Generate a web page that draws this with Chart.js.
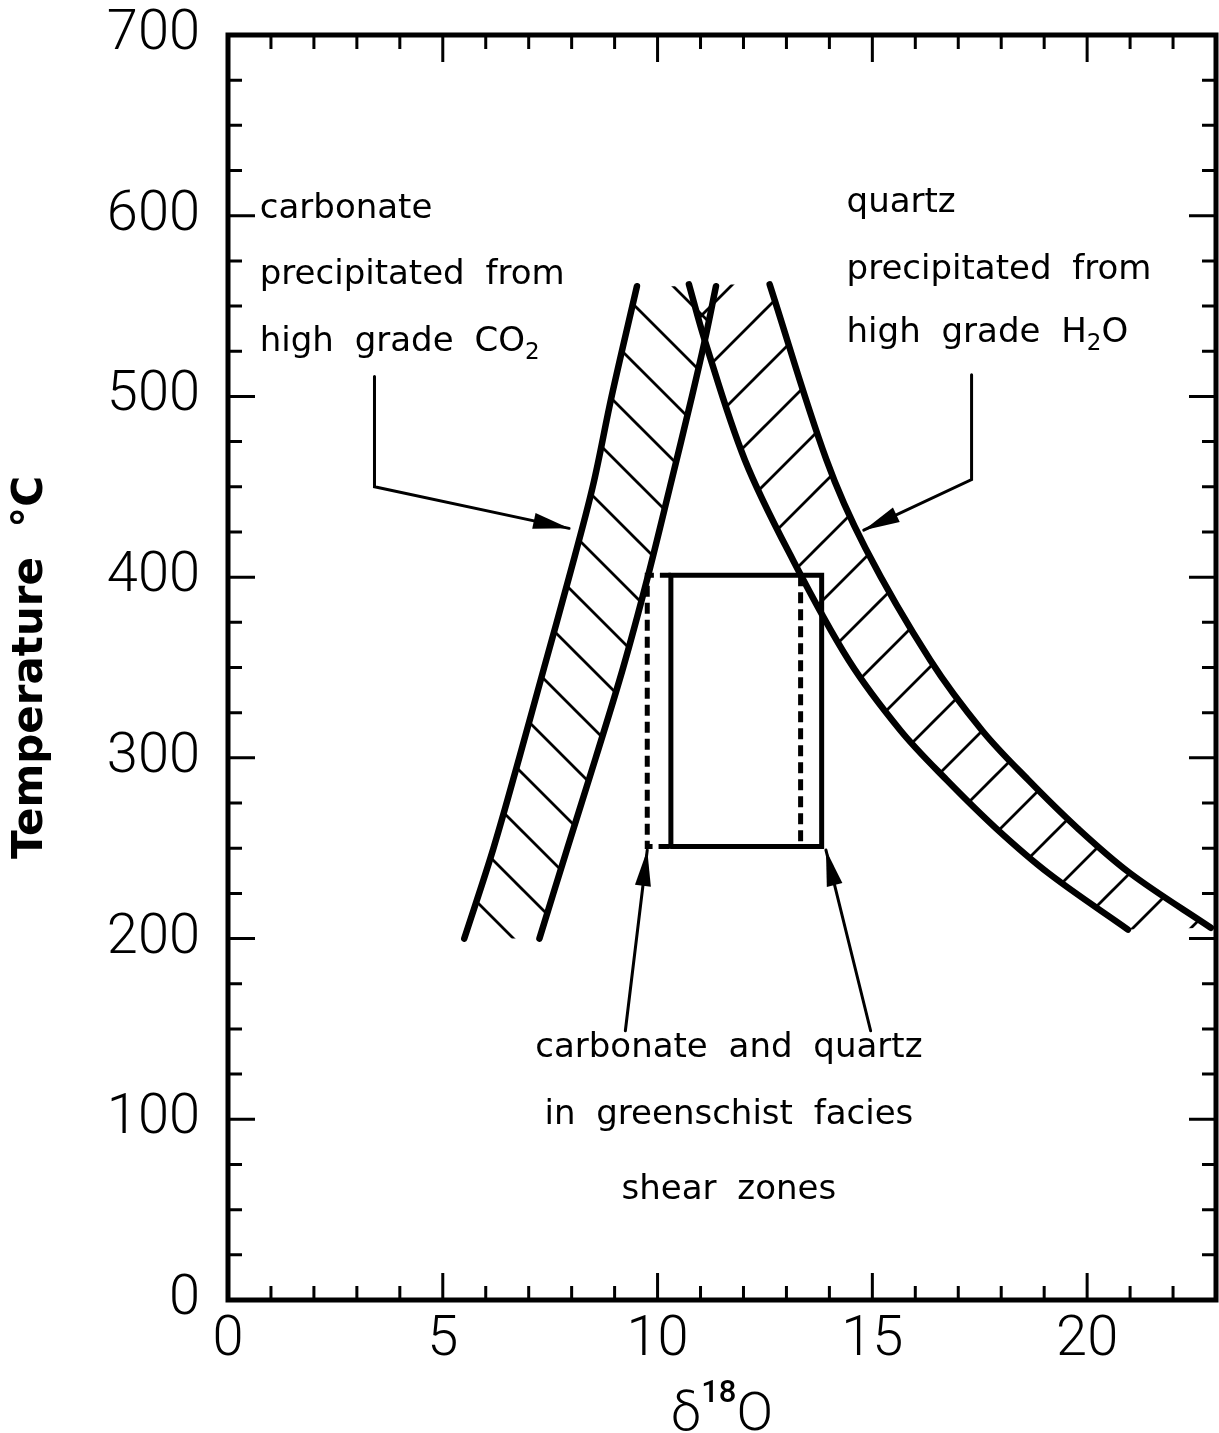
<!DOCTYPE html>
<html>
<head>
<meta charset="utf-8">
<script src="https://cdn.jsdelivr.net/npm/chart.js@4/dist/chart.umd.min.js"></script>
<style>
  html, body { margin: 0; padding: 0; background: #ffffff; }
  #wrap { width: 1219px; height: 1433px; position: relative; }
</style>
</head>
<body>
<div id="wrap"><canvas id="c" width="1219" height="1433"></canvas></div>
<script>
// ---------------- data ----------------
const xTickValues = [0, 5, 10, 15, 20];
const xTickLabels = ['0', '5', '10', '15', '20'];
const yTickValues = [0, 100, 200, 300, 400, 500, 600, 700];
const yTickLabels = ['0', '100', '200', '300', '400', '500', '600', '700'];

// carbonate precipitated from high grade CO2 (band edges), δ18O vs T
const carbonateOuterT = [200, 250, 300, 350, 400, 450, 500, 561];
const carbonateOuterD = [5.50, 6.18, 6.78, 7.36, 7.94, 8.49, 8.93, 9.52];
const carbonateInnerT = [200, 250, 300, 350, 400, 450, 500, 531, 561];
const carbonateInnerD = [7.25, 7.90, 8.56, 9.20, 9.77, 10.29, 10.80, 11.10, 11.36];

// quartz precipitated from high grade H2O (band edges)
const quartzLowerT = [562, 531, 465, 410, 354, 315, 288, 261, 236, 205];
const quartzLowerD = [10.73, 11.10, 12.03, 13.14, 14.45, 15.66, 16.72, 17.88, 19.11, 20.95];
const quartzUpperT = [562, 465, 416, 354, 315, 288, 261, 236, 206];
const quartzUpperD = [12.61, 13.93, 14.84, 16.35, 17.56, 18.62, 19.78, 21.01, 22.88];

// greenschist shear zone box (solid) and dashed extent
const boxD = [10.31, 13.82];
const boxT = [251, 401];
const dashedD = [9.76, 13.33];

// annotation arrows
const carbArrowD = [3.41, 3.41, 7.94];
const carbArrowT = [511, 450, 427];
const qzArrowD = [17.31, 17.31, 14.80];
const qzArrowT = [512, 454, 426];
const leftArrowD = [9.25, 9.76];
const leftArrowT = [149, 249];
const rightArrowD = [14.96, 13.92];
const rightArrowT = [149, 249];

// ---------------- helpers ----------------
const zip = (ds, ts) => ds.map((d, i) => ({ x: d, y: ts[i] }));

const boxPoints = [
  { x: boxD[0], y: boxT[0] }, { x: boxD[0], y: boxT[1] },
  { x: boxD[1], y: boxT[1] }, { x: boxD[1], y: boxT[0] },
  { x: boxD[0], y: boxT[0] }
];
const dashLeftPoints = [
  { x: boxD[0], y: boxT[1] }, { x: dashedD[0], y: boxT[1] },
  { x: dashedD[0], y: boxT[0] }, { x: boxD[0], y: boxT[0] }
];
const dashRightPoints = [{ x: dashedD[1], y: boxT[1] }, { x: dashedD[1], y: boxT[0] }];

function curveDs(points) {
  return { data: points, showLine: true, borderColor: '#000', borderWidth: 6.5,
           tension: 0.35, pointRadius: 0, pointHoverRadius: 0, borderCapStyle: 'round', fill: false };
}
function straightDs(points, width, dash, arrow) {
  return { data: points, showLine: true, borderColor: '#000', borderWidth: width,
           tension: 0, pointRadius: 0, pointHoverRadius: 0, borderDash: dash || [],
           borderJoinStyle: 'miter', borderCapStyle: dash ? 'butt' : 'round', fill: false, arrowHead: !!arrow };
}

function tracePts(ctx, pts, reverse, moveFirst) {
  const P = reverse ? pts.slice().reverse() : pts;
  P.forEach((p, i) => {
    if (i === 0) { if (moveFirst) ctx.moveTo(p.x, p.y); else ctx.lineTo(p.x, p.y); return; }
    const prev = P[i - 1];
    const c1x = reverse ? prev.cp1x : prev.cp2x, c1y = reverse ? prev.cp1y : prev.cp2y;
    const c2x = reverse ? p.cp2x : p.cp1x, c2y = reverse ? p.cp2y : p.cp1y;
    if ([c1x, c1y, c2x, c2y].every(Number.isFinite)) ctx.bezierCurveTo(c1x, c1y, c2x, c2y, p.x, p.y);
    else ctx.lineTo(p.x, p.y);
  });
}

function makeHatch(ctx, dir, phase, s, w) {
  const c = document.createElement('canvas');
  c.width = s; c.height = s;
  const g = c.getContext('2d');
  g.strokeStyle = '#000'; g.lineWidth = w;
  g.beginPath();
  for (let k = -2; k <= 2; k++) {
    const c0 = phase + k * s;
    if (dir === 'back') { g.moveTo(c0 - s, -s); g.lineTo(c0 + 2 * s, 2 * s); }
    else { g.moveTo(c0 + s, -s); g.lineTo(c0 - 2 * s, 2 * s); }
  }
  g.stroke();
  return ctx.createPattern(c, 'repeat');
}

// ---------------- plugins ----------------
const hatchPlugin = {
  id: 'hatch',
  beforeDatasetsDraw(chart, args, opts) {
    const { ctx, chartArea: a } = chart;
    ctx.save();
    ctx.beginPath(); ctx.rect(a.left, a.top, a.right - a.left, a.bottom - a.top); ctx.clip();
    opts.bands.forEach(b => {
      const m1 = chart.getDatasetMeta(b.from), m2 = chart.getDatasetMeta(b.to);
      m1.dataset.updateControlPoints(a, 'x');
      m2.dataset.updateControlPoints(a, 'x');
      ctx.beginPath();
      tracePts(ctx, m1.data, false, true);
      tracePts(ctx, m2.data, true, false);
      ctx.closePath();
      ctx.fillStyle = makeHatch(ctx, b.dir, b.phase, b.spacing, b.width);
      ctx.fill();
    });
    ctx.restore();
  }
};

const framePlugin = {
  id: 'frame',
  afterDatasetsDraw(chart, args, o) {
    const { ctx, chartArea: a, scales: { x, y } } = chart;
    ctx.save();
    ctx.strokeStyle = '#000';
    ctx.lineWidth = o.tickWidth;
    ctx.beginPath();
    const nx = Math.round((x.max - x.min) / o.xMinorStep);
    for (let i = 1; i < nx; i++) {
      const v = x.min + i * o.xMinorStep;
      const px = x.getPixelForValue(v);
      const len = (Math.abs(v / o.xMajorStep - Math.round(v / o.xMajorStep)) < 1e-6) ? o.majorLen : o.minorLen;
      ctx.moveTo(px, a.bottom); ctx.lineTo(px, a.bottom - len);
      ctx.moveTo(px, a.top); ctx.lineTo(px, a.top + len);
    }
    const ny = Math.round((y.max - y.min) / o.yMinorStep);
    for (let i = 1; i < ny; i++) {
      const v = y.min + i * o.yMinorStep;
      const py = y.getPixelForValue(v);
      const len = (Math.abs(v / o.yMajorStep - Math.round(v / o.yMajorStep)) < 1e-6) ? o.majorLen : o.minorLen;
      ctx.moveTo(a.left, py); ctx.lineTo(a.left + len, py);
      ctx.moveTo(a.right, py); ctx.lineTo(a.right - len, py);
    }
    ctx.stroke();
    ctx.lineWidth = o.frameWidth;
    ctx.lineJoin = 'miter';
    ctx.strokeRect(a.left, a.top, a.right - a.left, a.bottom - a.top);
    ctx.restore();
  }
};

const arrowPlugin = {
  id: 'arrowheads',
  afterDatasetsDraw(chart, args, o) {
    const ctx = chart.ctx;
    chart.data.datasets.forEach((ds, i) => {
      if (!ds.arrowHead) return;
      const pts = chart.getDatasetMeta(i).data;
      const p = pts[pts.length - 1], q = pts[pts.length - 2];
      const ang = Math.atan2(p.y - q.y, p.x - q.x);
      ctx.save();
      ctx.fillStyle = '#000';
      ctx.translate(p.x, p.y); ctx.rotate(ang);
      ctx.beginPath();
      ctx.moveTo(0, 0); ctx.lineTo(-o.length, -o.width / 2); ctx.lineTo(-o.length, o.width / 2);
      ctx.closePath(); ctx.fill();
      ctx.restore();
    });
  }
};

const notesPlugin = {
  id: 'notes',
  afterDraw(chart, args, o) {
    const { ctx, chartArea: a, scales: { x, y } } = chart;
    ctx.save();
    ctx.fillStyle = '#000';
    ctx.textBaseline = 'alphabetic';
    ctx.textAlign = 'left';
    try { ctx.wordSpacing = o.wordSpacing + 'px'; } catch (e) {}
    const mainFont = `${o.size}px ${o.family}`;
    const subFont = `${o.subSize}px ${o.family}`;
    o.items.forEach(it => {
      const widths = it.parts.map(p => { ctx.font = p[1] === 'sub' ? subFont : mainFont; return ctx.measureText(p[0]).width; });
      const total = widths.reduce((s, w) => s + w, 0);
      let px = x.getPixelForValue(it.d);
      if (it.align === 'center') px -= total / 2;
      const py = y.getPixelForValue(it.t);
      it.parts.forEach((p, k) => {
        ctx.font = p[1] === 'sub' ? subFont : mainFont;
        ctx.fillText(p[0], px, py + (p[1] === 'sub' ? o.subDrop : 0));
        px += widths[k];
      });
    });
    // x-axis title: δ18O with superscript
    try { ctx.wordSpacing = '0px'; } catch (e) {}
    const t = o.xTitle;
    const f1 = `${t.weight} ${t.size}px ${t.family}`, f2 = `${t.supWeight} ${t.supSize}px ${t.family}`;
    ctx.font = f1; const w1 = ctx.measureText(t.base).width; const w3 = ctx.measureText(t.after).width;
    ctx.font = f2; const w2 = ctx.measureText(t.sup).width;
    let sx = (a.left + a.right) / 2 - (w1 + w2 + w3) / 2;
    const by = a.bottom + t.offset;
    ctx.font = f1; ctx.fillText(t.base, sx, by); sx += w1;
    ctx.font = f2; ctx.fillText(t.sup, sx, by - t.rise); sx += w2;
    ctx.font = f1; ctx.fillText(t.after, sx, by);
    ctx.restore();
  }
};

// ---------------- chart ----------------
const tickFont = { family: 'Roboto', size: 56, weight: '300' };

new Chart(document.getElementById('c').getContext('2d'), {
  type: 'scatter',
  data: {
    datasets: [
      curveDs(zip(carbonateOuterD, carbonateOuterT)),   // 0
      curveDs(zip(carbonateInnerD, carbonateInnerT)),   // 1
      curveDs(zip(quartzLowerD, quartzLowerT)),         // 2
      curveDs(zip(quartzUpperD, quartzUpperT)),         // 3
      straightDs(boxPoints, 5),                          // 4
      straightDs(dashLeftPoints, 5, [11, 6]),            // 5
      straightDs(dashRightPoints, 5, [11, 6]),           // 6
      straightDs(zip(carbArrowD, carbArrowT), 3, null, true),
      straightDs(zip(qzArrowD, qzArrowT), 3, null, true),
      straightDs(zip(leftArrowD, leftArrowT), 3, null, true),
      straightDs(zip(rightArrowD, rightArrowT), 3, null, true)
    ]
  },
  options: {
    responsive: false,
    animation: false,
    devicePixelRatio: 1,
    events: [],
    layout: { padding: { top: 35, right: 3, left: 0, bottom: 0 } },
    plugins: {
      legend: { display: false },
      tooltip: { enabled: false },
      hatch: {
        bands: [
          { from: 0, to: 1, dir: 'back', phase: 39, spacing: 58, width: 2.8 },
          { from: 2, to: 3, dir: 'fwd', phase: 31, spacing: 58, width: 2.8 }
        ]
      },
      frame: { frameWidth: 5, tickWidth: 3, majorLen: 27, minorLen: 14,
               xMinorStep: 1, xMajorStep: 5, yMinorStep: 25, yMajorStep: 100 },
      arrowheads: { length: 36, width: 16 },
      notes: {
        family: '"DejaVu Sans"', size: 34, subSize: 23, subDrop: 8, wordSpacing: 10,
        items: [
          { d: 0.74, t: 599, align: 'left', parts: [['carbonate']] },
          { d: 0.74, t: 562, align: 'left', parts: [['precipitated from']] },
          { d: 0.74, t: 525, align: 'left', parts: [['high grade CO'], ['2', 'sub']] },
          { d: 14.40, t: 602, align: 'left', parts: [['quartz']] },
          { d: 14.40, t: 565, align: 'left', parts: [['precipitated from']] },
          { d: 14.40, t: 530, align: 'left', parts: [['high grade H'], ['2', 'sub'], ['O']] },
          { d: 11.66, t: 134.5, align: 'center', parts: [['carbonate and quartz']] },
          { d: 11.66, t: 97.4, align: 'center', parts: [['in greenschist facies']] },
          { d: 11.66, t: 55.9, align: 'center', parts: [['shear zones']] }
        ],
        xTitle: { base: 'δ', sup: '18', after: 'O', family: 'Roboto', size: 54, weight: '300',
                  supSize: 31, supWeight: '500', offset: 130, rise: 28 }
      }
    },
    scales: {
      x: {
        type: 'linear', position: 'bottom', min: 0, max: 23,
        grid: { display: false, drawTicks: false },
        border: { display: false },
        afterBuildTicks: s => { s.ticks = xTickValues.map(v => ({ value: v })); },
        afterFit: s => { s.height = 133; s.paddingLeft = 0; s.paddingRight = 0; s.paddingTop = 0; s.paddingBottom = 0; },
        ticks: { autoSkip: false, maxRotation: 0, padding: 7, color: '#000', font: tickFont,
                 callback: (v, i) => xTickLabels[i] }
      },
      y: {
        type: 'linear', position: 'left', min: 0, max: 700,
        grid: { display: false, drawTicks: false },
        border: { display: false },
        afterBuildTicks: s => { s.ticks = yTickValues.map(v => ({ value: v })); },
        afterFit: s => { s.width = 228; s.paddingTop = 0; s.paddingBottom = 0; s.paddingLeft = 0; s.paddingRight = 0; },
        ticks: { autoSkip: false, padding: 28, color: '#000', font: tickFont,
                 callback: (v, i) => yTickLabels[i] },
        title: { display: true, text: 'Temperature  °C', color: '#000',
                 font: { family: '"DejaVu Sans"', size: 42, weight: 'bold' },
                 padding: { top: 6, bottom: 0 } }
      }
    }
  },
  plugins: [hatchPlugin, framePlugin, arrowPlugin, notesPlugin]
});
</script>
</body>
</html>
